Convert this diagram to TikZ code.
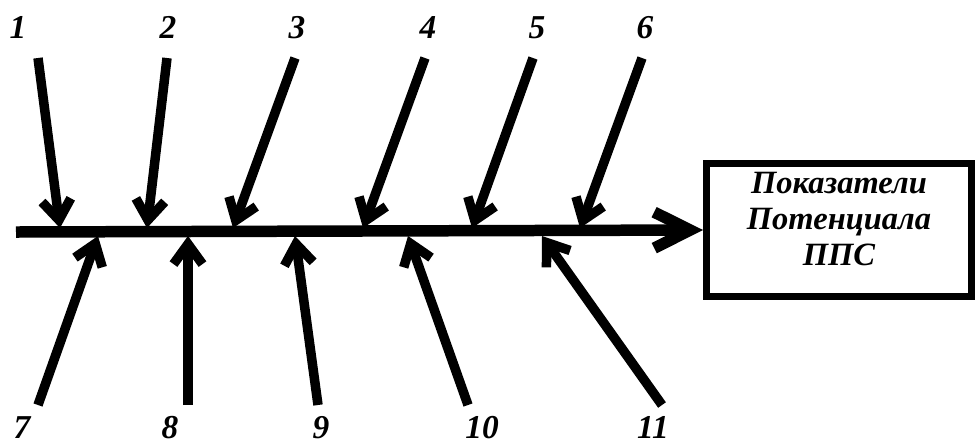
\documentclass[tikz,border=0pt]{standalone}
\usepackage{fontspec}
\setmainfont{Liberation Serif}
\usetikzlibrary{arrows.meta, positioning}

\begin{document}
\begin{tikzpicture}[
                x=0.02cm, y=-0.02cm,
                num/.style={font=\bfseries\itshape\fontsize{19}{19}\selectfont, inner sep=0pt, anchor=base},
                cause/.style={draw, line width=0.19cm, -{Straight Barb[length=0.4cm, width=0.58cm]}},
                spine/.style={draw, line width=0.23cm, -{Straight Barb[length=0.72cm, width=0.72cm]}},
                result/.style={draw, line width=0.14cm, rectangle, minimum width=5.3cm, minimum height=2.66cm,
                    inner sep=0pt, align=center, font=\bfseries\itshape\fontsize{18.5}{20.5}\selectfont}
            ]
            \useasboundingbox (0,0) rectangle (979,444);

            % Result box and main spine
            \node[result] (result) at (839,230) {Показатели\\Потенциала\\ППС\\[-8pt]\mbox{}};
            \coordinate (start) at (16,232);
            \draw[spine] (start) -- (result.west);

            % Upper causes
            \node[num] (n1) at (18,38) {1};
            \node[num] (n2) at (168,38) {2};
            \node[num] (n3) at (297,38) {3};
            \node[num] (n4) at (428,38) {4};
            \node[num] (n5) at (537,38) {5};
            \node[num] (n6) at (645,38) {6};

            \coordinate (t1) at (38,58);   \coordinate (h1) at (60,228);
            \coordinate (t2) at (167,58);  \coordinate (h2) at (147,228);
            \coordinate (t3) at (295,58);  \coordinate (h3) at (233,228);
            \coordinate (t4) at (425,58);  \coordinate (h4) at (363,228);
            \coordinate (t5) at (533,58);  \coordinate (h5) at (472,228);
            \coordinate (t6) at (642,58);  \coordinate (h6) at (580,228);

            \draw[cause] (t1) -- (h1);
            \draw[cause] (t2) -- (h2);
            \draw[cause] (t3) -- (h3);
            \draw[cause] (t4) -- (h4);
            \draw[cause] (t5) -- (h5);
            \draw[cause] (t6) -- (h6);

            % Lower causes
            \node[num] (n7) at (22,438) {7};
            \node[num] (n8) at (170,438) {8};
            \node[num] (n9) at (321,438) {9};
            \node[num] (n10) at (482,438) {10};
            \node[num] (n11) at (653,438) {11};

            \coordinate (t7) at (38,405);   \coordinate (h7) at (98,236);
            \coordinate (t8) at (188,405);  \coordinate (h8) at (188,236);
            \coordinate (t9) at (318,405);  \coordinate (h9) at (295,236);
            \coordinate (t10) at (468,405); \coordinate (h10) at (408,236);
            \coordinate (t11) at (662,405); \coordinate (h11) at (542,236);

            \draw[cause] (t7) -- (h7);
            \draw[cause] (t8) -- (h8);
            \draw[cause] (t9) -- (h9);
            \draw[cause] (t10) -- (h10);
            \draw[cause] (t11) -- (h11);
        \end{tikzpicture}
\end{document}
